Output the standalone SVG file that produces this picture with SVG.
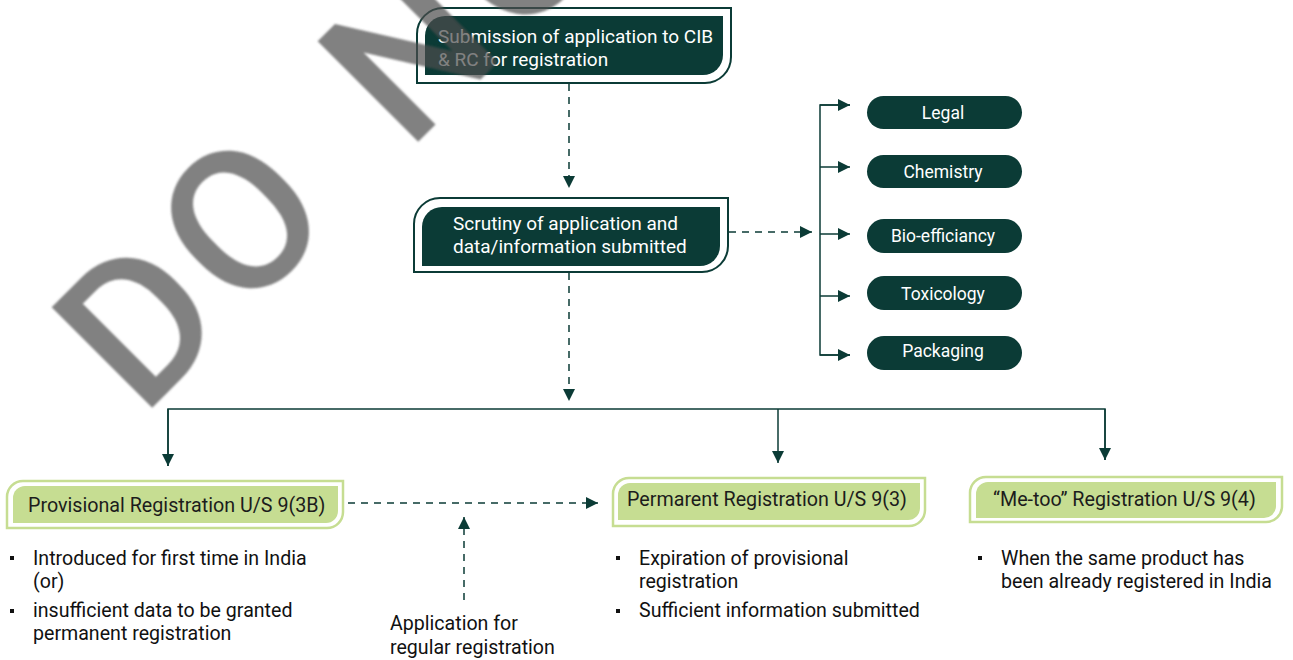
<svg xmlns="http://www.w3.org/2000/svg" width="1293" height="660" viewBox="0 0 1293 660">
  <defs>
    <style>
      .frame { fill: #ffffff; stroke: #0b3b36; stroke-width: 2; }
      .dark { fill: #0b3b36; }
      .lframe { fill: #ffffff; stroke: #c6dd92; stroke-width: 2.5; }
      .light { fill: #c6dd92; }
      .wt { font-family: Roboto, "Liberation Sans", sans-serif; font-size: 19px; fill: #ffffff; }
      .pill { font-family: Roboto, "Liberation Sans", sans-serif; font-size: 17.5px; fill: #ffffff; text-anchor: middle; }
      .bt { font-family: Roboto, "Liberation Sans", sans-serif; font-size: 19.7px; fill: #1c1c1c; }
      .tx { font-family: Roboto, "Liberation Sans", sans-serif; font-size: 19.6px; fill: #111111; }
      .line { fill: none; stroke: #0b3b36; stroke-width: 1.5; }
      .dash { fill: none; stroke: #0b3b36; stroke-width: 1.5; stroke-dasharray: 7 6; }
      .bul { fill: #111111; }
    </style>
    <marker id="ahl" viewBox="0 0 10 10" refX="10" refY="5" markerWidth="12" markerHeight="12" markerUnits="userSpaceOnUse" orient="auto">
      <path d="M0,0 L10,5 L0,10 Z" fill="#0b3b36"/>
    </marker>
    <filter id="soft" x="-10%" y="-10%" width="120%" height="120%">
      <feGaussianBlur stdDeviation="1.2"/>
    </filter>
  </defs>

  <g id="connectors">
    <line class="dash" x1="569" y1="84" x2="569" y2="188" marker-end="url(#ahl)"/>
    <line class="dash" x1="729" y1="232" x2="812" y2="232" marker-end="url(#ahl)"/>
    <polyline class="line" points="850,105 820,105 820,355 850,355"/>
    <line class="line" x1="820" y1="105" x2="850" y2="105" marker-end="url(#ahl)"/>
    <line class="line" x1="820" y1="167" x2="850" y2="167" marker-end="url(#ahl)"/>
    <line class="line" x1="820" y1="234" x2="850" y2="234" marker-end="url(#ahl)"/>
    <line class="line" x1="820" y1="296" x2="850" y2="296" marker-end="url(#ahl)"/>
    <line class="line" x1="820" y1="355" x2="850" y2="355" marker-end="url(#ahl)"/>
    <line class="dash" x1="569" y1="273" x2="569" y2="401" marker-end="url(#ahl)"/>
    <polyline class="line" points="168,466 168,409 1105,409 1105,460"/>
    <line class="line" x1="168" y1="409" x2="168" y2="466" marker-end="url(#ahl)"/>
    <line class="line" x1="778" y1="409" x2="778" y2="463" marker-end="url(#ahl)"/>
    <line class="line" x1="1105" y1="409" x2="1105" y2="460" marker-end="url(#ahl)"/>
    <line class="dash" x1="348" y1="503" x2="598" y2="503" marker-end="url(#ahl)"/>
    <line class="dash" x1="464" y1="600" x2="464" y2="517" marker-end="url(#ahl)"/>
  </g>

  <g id="node-submission">
    <path class="frame" d="M417,34 A26,26 0 0 1 443,8 H731 V57 A26,26 0 0 1 705,83 H417 Z"/>
    <path class="dark" d="M425,36 A20,20 0 0 1 445,16 H723 V55 A20,20 0 0 1 703,75 H425 Z"/>
    <text class="wt" x="438" y="43">Submission of application to CIB</text>
    <text class="wt" x="438" y="66">&amp; RC for registration</text>
  </g>

  <g id="node-scrutiny">
    <path class="frame" d="M414,224 A26,26 0 0 1 440,198 H728 V246 A26,26 0 0 1 702,272 H414 Z"/>
    <path class="dark" d="M422,227 A20,20 0 0 1 442,207 H720 V246 A20,20 0 0 1 700,266 H422 Z"/>
    <text class="wt" x="453" y="230">Scrutiny of application and</text>
    <text class="wt" x="453" y="253">data/information submitted</text>
  </g>

  <g id="node-legal">
    <rect class="dark" x="867" y="96" width="155" height="33" rx="16.5"/>
    <text class="pill" x="943" y="119">Legal</text>
  </g>
  <g id="node-chemistry">
    <rect class="dark" x="867" y="155" width="155" height="33" rx="16.5"/>
    <text class="pill" x="943" y="178">Chemistry</text>
  </g>
  <g id="node-bio">
    <rect class="dark" x="867" y="219" width="155" height="34" rx="17"/>
    <text class="pill" x="943" y="242">Bio-efficiancy</text>
  </g>
  <g id="node-toxicology">
    <rect class="dark" x="867" y="276" width="155" height="34" rx="17"/>
    <text class="pill" x="943" y="300">Toxicology</text>
  </g>
  <g id="node-packaging">
    <rect class="dark" x="867" y="336" width="155" height="34" rx="17"/>
    <text class="pill" x="943" y="357">Packaging</text>
  </g>

  <g id="node-provisional">
    <path class="lframe" d="M7,497 A16,16 0 0 1 23,481 H343 V512 A16,16 0 0 1 327,528 H7 Z"/>
    <path class="light" d="M13,498 A12,12 0 0 1 25,486 H338 V511 A12,12 0 0 1 326,523 H13 Z"/>
    <text class="bt" x="28" y="512">Provisional Registration U/S 9(3B)</text>
  </g>

  <g id="node-permanent">
    <path class="lframe" d="M613,494 A16,16 0 0 1 629,478 H925 V510 A16,16 0 0 1 909,526 H613 Z"/>
    <path class="light" d="M618,495 A12,12 0 0 1 630,483 H920 V508 A12,12 0 0 1 908,520 H618 Z"/>
    <text class="bt" x="627" y="506">Permarent Registration U/S 9(3)</text>
  </g>

  <g id="node-metoo">
    <path class="lframe" d="M970,493 A16,16 0 0 1 986,477 H1282 V506 A16,16 0 0 1 1266,522 H970 Z"/>
    <path class="light" d="M976,494 A12,12 0 0 1 988,482 H1276 V506 A12,12 0 0 1 1264,518 H976 Z"/>
    <text class="bt" x="993" y="506">“Me-too” Registration U/S 9(4)</text>
  </g>

  <g id="notes-provisional">
    <rect class="bul" x="10" y="556" width="4" height="4"/>
    <text class="tx" x="33" y="565">Introduced for first time in India</text>
    <text class="tx" x="33" y="588">(or)</text>
    <rect class="bul" x="10" y="609" width="4" height="4"/>
    <text class="tx" x="33" y="617">insufficient data to be granted</text>
    <text class="tx" x="33" y="640">permanent registration</text>
  </g>

  <g id="notes-permanent">
    <rect class="bul" x="616" y="556" width="4" height="4"/>
    <text class="tx" x="639" y="565">Expiration of provisional</text>
    <text class="tx" x="639" y="588">registration</text>
    <rect class="bul" x="616" y="609" width="4" height="4"/>
    <text class="tx" x="639" y="617">Sufficient information submitted</text>
  </g>

  <g id="notes-metoo">
    <rect class="bul" x="978" y="556" width="4" height="4"/>
    <text class="tx" x="1001" y="565">When the same product has</text>
    <text class="tx" x="1001" y="588">been already registered in India</text>
  </g>

  <g id="label-application">
    <text class="tx" x="390" y="630">Application for</text>
    <text class="tx" x="390" y="654">regular registration</text>
  </g>

  <g id="watermark" filter="url(#soft)">
    <text transform="translate(142,418) rotate(-45)" x="0" y="0" font-family="Roboto, 'Liberation Sans', sans-serif" font-size="200" font-weight="500" letter-spacing="10" word-spacing="28" fill="#4d4d4d" fill-opacity="0.7">DO NOT COPY</text>
  </g>
</svg>
